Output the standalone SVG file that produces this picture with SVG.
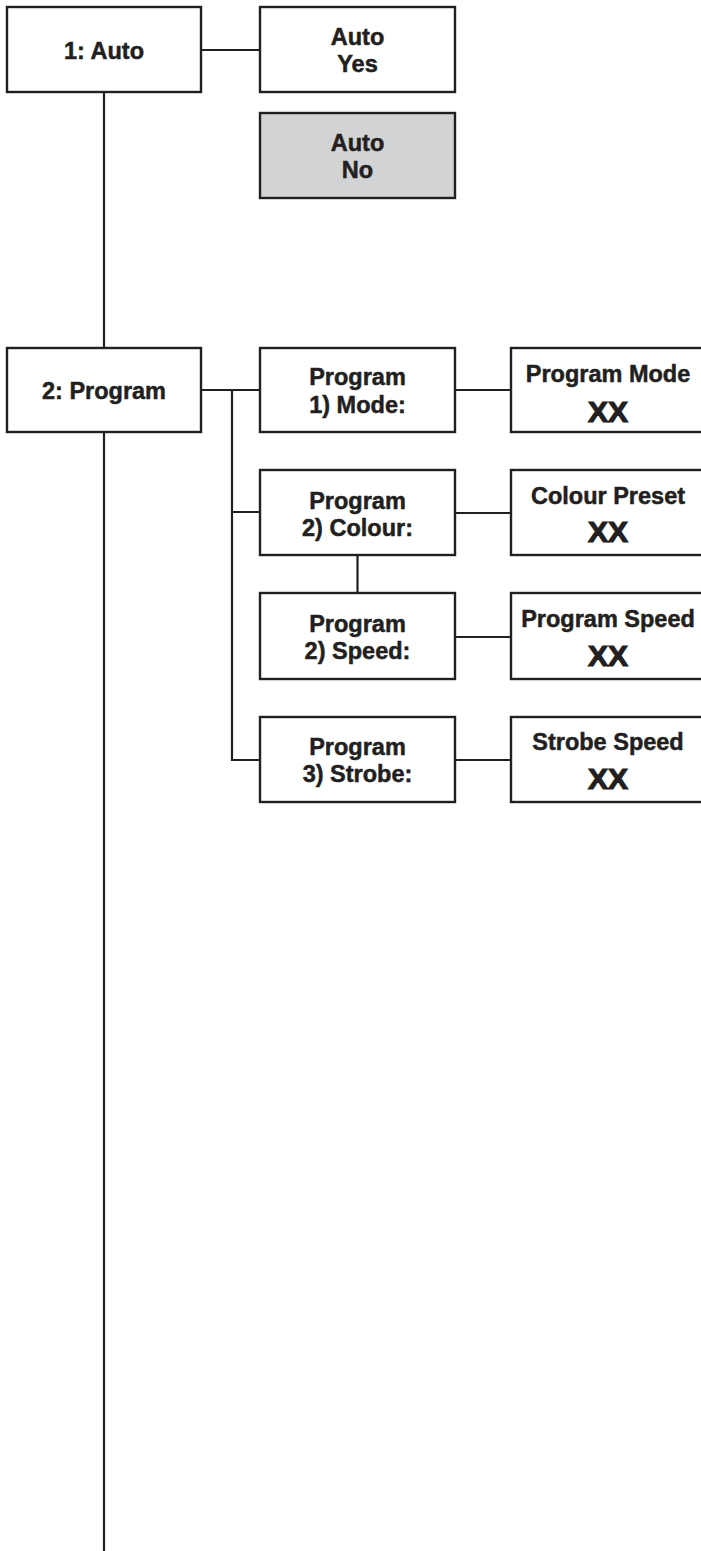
<svg xmlns="http://www.w3.org/2000/svg" width="701" height="1551" viewBox="0 0 701 1551">
<style>
.box{fill:#fff;stroke:#231f20;stroke-width:2.4}
.grey{fill:#d1d3d4}
.t{font-family:"Liberation Sans",Arial,sans-serif;font-weight:bold;font-size:23.5px;fill:#231f20;stroke:#231f20;stroke-width:0.5;text-anchor:middle}
.xx{font-size:30px;stroke-width:1.2}
.c{fill:none;stroke:#231f20;stroke-width:2.2}
</style>
<rect width="701" height="1551" fill="#fff"/>
<g id="connectors">
<path class="c" d="M201 50H260M104 92V348M104 432V1551M201 390H260M232 390V760H260M232 512H260M357.5 555V593M455 390H511M455 513H511M455 637H511M455 760H511"/>
</g>
<g id="auto"><rect class="box" x="7" y="7" width="194" height="85"/><text class="t" x="104" y="59">1: Auto</text></g>
<g id="auto-yes"><rect class="box" x="260" y="7" width="195" height="85"/><text class="t" x="357.5" y="45">Auto</text><text class="t" x="357.5" y="72">Yes</text></g>
<g id="auto-no"><rect class="box grey" x="260" y="113" width="195" height="85"/><text class="t" x="357.5" y="151">Auto</text><text class="t" x="357.5" y="178">No</text></g>
<g id="program"><rect class="box" x="7" y="348" width="194" height="84"/><text class="t" x="104" y="399">2: Program</text></g>
<g id="prog-mode"><rect class="box" x="260" y="348" width="195" height="84"/><text class="t" x="357.5" y="385">Program</text><text class="t" x="357.5" y="413">1) Mode:</text></g>
<g id="prog-mode-val"><rect class="box" x="511" y="348" width="195" height="84"/><text class="t" x="608" y="382">Program Mode</text><text class="t xx" x="608" y="422">XX</text></g>
<g id="prog-colour"><rect class="box" x="260" y="470" width="195" height="85"/><text class="t" x="357.5" y="509">Program</text><text class="t" x="357.5" y="536">2) Colour:</text></g>
<g id="colour-val"><rect class="box" x="511" y="470" width="195" height="85"/><text class="t" x="608" y="504">Colour Preset</text><text class="t xx" x="608" y="542">XX</text></g>
<g id="prog-speed"><rect class="box" x="260" y="593" width="195" height="86"/><text class="t" x="357.5" y="632">Program</text><text class="t" x="357.5" y="659">2) Speed:</text></g>
<g id="speed-val"><rect class="box" x="511" y="593" width="195" height="86"/><text class="t" x="608" y="627">Program Speed</text><text class="t xx" x="608" y="666">XX</text></g>
<g id="prog-strobe"><rect class="box" x="260" y="717" width="195" height="85"/><text class="t" x="357.5" y="755">Program</text><text class="t" x="357.5" y="782">3) Strobe:</text></g>
<g id="strobe-val"><rect class="box" x="511" y="717" width="195" height="85"/><text class="t" x="608" y="750">Strobe Speed</text><text class="t xx" x="608" y="789">XX</text></g>
</svg>
